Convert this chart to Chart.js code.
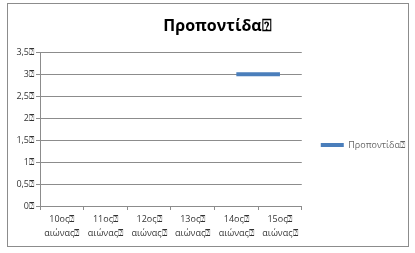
<!DOCTYPE html>
<html>
<head>
<meta charset="utf-8">
<script src="https://cdn.jsdelivr.net/npm/chart.js@4/dist/chart.umd.min.js"></script>
<style>
  html, body { margin: 0; padding: 0; background: #fff; }
  #wrap { width: 415px; height: 253px; }
</style>
</head>
<body>
<div id="wrap"><canvas id="chart" width="415" height="253"></canvas></div>
<script>
const Q = '\u2370';
const categories = ['10ος', '11ος', '12ος', '13ος', '14ος', '15ος'];
const seriesName = 'Προποντίδα';
const seriesValues = [null, null, null, null, 3, 3];
const yTicks = [0, 0.5, 1, 1.5, 2, 2.5, 3, 3.5];

const labels = categories.map(c => [c + Q, 'αιώνας' + Q]);

// grey frame round the whole chart, and nudge the title a little to the right
const framePlugin = {
  id: 'frame',
  afterLayout(chart) {
    const t = chart.titleBlock;
    if (t) { t.left += 5; t.right += 5; }
  },
  afterDraw(chart) {
    const c = chart.ctx;
    c.save();
    c.strokeStyle = '#8c8c8c';
    c.lineWidth = 1;
    c.strokeRect(7.5, 3.5, 401, 243);
    c.restore();
  }
};

const ctx = document.getElementById('chart').getContext('2d');
new Chart(ctx, {
  type: 'line',
  data: {
    labels: labels,
    datasets: [{
      label: seriesName + Q,
      data: seriesValues,
      borderColor: '#4a7ebb',
      backgroundColor: '#4a7ebb',
      borderWidth: 4,
      pointRadius: 0,
      spanGaps: false
    }]
  },
  options: {
    responsive: false,
    animation: false,
    layout: { padding: { left: 10, top: 0, right: 0, bottom: 5 } },
    plugins: {
      title: {
        display: true,
        text: seriesName + Q,
        color: '#000',
        font: { family: 'Open Sans', size: 16, weight: 'bold' },
        padding: { top: 17, bottom: 16 }
      },
      legend: {
        position: 'right',
        maxWidth: 200,
        title: { display: true, text: ' ', font: { size: 1 }, padding: { top: 41, bottom: 0 } },
        labels: {
          color: '#222',
          font: { family: 'Open Sans', size: 9 },
          boxWidth: 23,
          boxHeight: 4,
          padding: 19,
          generateLabels(chart) {
            const ds = chart.data.datasets[0];
            return [{ text: ds.label, fillStyle: ds.borderColor, strokeStyle: ds.borderColor, lineWidth: 0 }];
          }
        }
      },
      tooltip: { enabled: false }
    },
    scales: {
      x: {
        offset: true,
        grid: {
          offset: true,
          drawOnChartArea: false,
          color: '#8c8c8c',
          tickLength: 4
        },
        border: { color: '#8c8c8c' },
        ticks: {
          color: '#333',
          font: { family: 'Open Sans', size: 9, lineHeight: 1.5 },
          maxRotation: 0,
          autoSkip: false,
          padding: 3
        },
        afterFit(s) { s.height = 42; }
      },
      y: {
        min: 0,
        max: 3.5,
        afterBuildTicks(s) { s.ticks = yTicks.map(v => ({ value: v })); },
        grid: { color: '#8c8c8c', tickLength: 4 },
        border: { color: '#8c8c8c' },
        ticks: {
          color: '#333',
          font: { family: 'Open Sans', size: 9 },
          padding: 2,
          callback: v => String(v).replace('.', ',') + Q
        },
        afterFit(s) { s.width = 30; }
      }
    }
  },
  plugins: [framePlugin]
});
</script>
</body>
</html>
